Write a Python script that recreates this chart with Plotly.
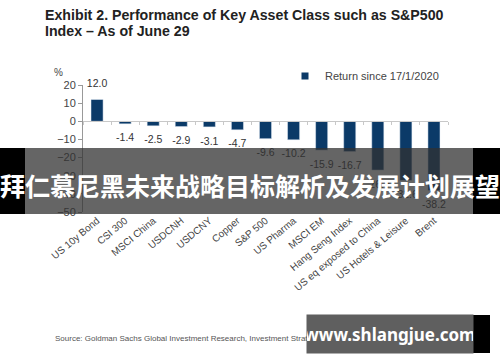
import plotly.graph_objects as go

# ---- data ----
categories = ["US 10y Bond", "CSI 300", "MSCI China", "USDCNH", "USDCNY", "Copper",
              "S&P 500", "US Pharma", "MSCI EM", "Hang Seng Index",
              "US eq exposed to China", "US Hotels & Leisure", "Brent"]
values = [12.0, -1.4, -2.5, -2.9, -3.1, -4.7, -9.6, -10.2, -15.9, -16.7, -26.9, -32.6, -38.2]
series_name = "Return since 17/1/2020"
y_ticks = [20, 10, 0, -10, -20, -30, -40, -50]

title_lines = ["Exhibit 2. Performance of Key Asset Class such as S&P500", "Index \u2013 As of June 29"]
source_text = "Source: Goldman Sachs Global Investment Research, Investment Strategy Group, Bloomberg"
banner_text = "拜仁慕尼黑未来战略目标解析及发展计划展望"
site_text = "www.shlangjue.com"

# ---- layout helpers ----
W, H = 500, 362
L, R, T, B = 83, 52, 85, 150
def px(x):
    return (x - L) / (W - L - R)
def py(y):
    return (H - B - y) / (H - T - B)

BAR = "#0b3a68"
FONT = "Liberation Sans, Arial, sans-serif"

fig = go.Figure()
fig.add_trace(go.Bar(x=categories, y=values, name=series_name, marker_color=BAR,
                     width=0.43, hoverinfo="skip", showlegend=False))
# legend-only entry with a small square marker
fig.add_trace(go.Scatter(x=[None], y=[None], mode="markers", name=series_name,
                         marker=dict(symbol="square", size=7, color=BAR), showlegend=True))
fig.add_trace(go.Scatter(
    x=categories, y=values, xaxis="x2", yaxis="y",
    mode="markers+text",
    text=[f"{v:.1f}" for v in values],
    textposition=["top center" if v >= 0 else "bottom center" for v in values],
    marker=dict(size=14, opacity=0),
    textfont=dict(size=10.5, color="#333", family=FONT),
    cliponaxis=False,
    showlegend=False, hoverinfo="skip"))

yr = [min(y_ticks), max(y_ticks)]
fig.update_layout(
    width=W, height=H,
    margin=dict(l=L, r=R, t=T, b=B, autoexpand=False),
    paper_bgcolor="white", plot_bgcolor="white",
    font=dict(family=FONT, color="#444"),
    bargap=0.57,
    xaxis=dict(type="category", range=[-0.5, len(categories) - 0.5], showline=False,
               ticks="", tickangle=-40, tickfont=dict(size=10, color="#444"),
               showgrid=False, zeroline=False),
    xaxis2=dict(type="category", overlaying="x", anchor="free",
                position=(0 - yr[0]) / (yr[1] - yr[0]), side="bottom",
                range=[-0.5, len(categories) - 0.5], showline=True, linecolor="#c8c8c8",
                ticks="outside", tickson="boundaries", ticklen=3, tickcolor="#c8c8c8",
                showticklabels=False, showgrid=False, zeroline=False),
    yaxis=dict(range=yr, tickvals=y_ticks, showline=True, linecolor="#999",
               ticks="outside", ticklen=4, tickcolor="#999", showgrid=False,
               zeroline=False, tickfont=dict(size=11, color="#444")),
    legend=dict(x=px(285), y=py(76), xanchor="left", yanchor="middle",
                bgcolor="rgba(0,0,0,0)", font=dict(size=11, color="#444"),
                itemwidth=30, tracegroupgap=0),
    showlegend=True,
)

ann = []
ann.append(dict(x=px(43), y=py(15), xref="paper", yref="paper", xanchor="left", yanchor="middle",
                text="<b>" + title_lines[0] + "</b>", showarrow=False,
                font=dict(size=14.2, color="#222", family=FONT)))
ann.append(dict(x=px(43), y=py(31), xref="paper", yref="paper", xanchor="left", yanchor="middle",
                text="<b>" + title_lines[1] + "</b>", showarrow=False,
                font=dict(size=14.2, color="#222", family=FONT)))
ann.append(dict(x=px(58), y=py(72), xref="paper", yref="paper", xanchor="center", yanchor="middle",
                text="%", showarrow=False, font=dict(size=10, color="#444")))
ann.append(dict(x=px(53), y=py(338), xref="paper", yref="paper", xanchor="left", yanchor="middle",
                text=source_text, showarrow=False, font=dict(size=8, color="#555")))
# watermark banner text
ann.append(dict(x=px(250), y=py(185), xref="paper", yref="paper", xanchor="center", yanchor="middle",
                text="<b>" + banner_text + "</b>", showarrow=False,
                font=dict(size=25, color="white", family="Noto Sans CJK SC")))
# site box (annotation with background so it covers the source line)
ann.append(dict(x=px(390), y=py(334), xref="paper", yref="paper", xanchor="center", yanchor="middle",
                text="<b>" + site_text + "</b>", showarrow=False, width=166, height=38,
                bgcolor="#5f5f5f", borderpad=0,
                font=dict(size=17, color="white", family="Noto Sans, sans-serif")))
fig.update_layout(annotations=ann)

shapes = [
    dict(type="rect", xref="paper", yref="paper", x0=px(25), x1=px(473), y0=py(148), y1=py(214),
         fillcolor="rgba(50,50,50,0.75)", line=dict(width=0), layer="above"),
    dict(type="rect", xref="paper", yref="paper", x0=px(0), x1=px(25), y0=py(148), y1=py(214),
         fillcolor="black", line=dict(width=0), layer="above"),
    dict(type="rect", xref="paper", yref="paper", x0=px(473), x1=px(500), y0=py(148), y1=py(214),
         fillcolor="black", line=dict(width=0), layer="above"),
    dict(type="rect", xref="paper", yref="paper", x0=px(473), x1=px(490), y0=py(315), y1=py(353),
         fillcolor="black", line=dict(width=0), layer="above"),
]
fig.update_layout(shapes=shapes)

fig.write_html("out.html", config={"displayModeBar": False},
               post_script="document.body.style.margin='0';document.body.style.overflow='hidden';")
